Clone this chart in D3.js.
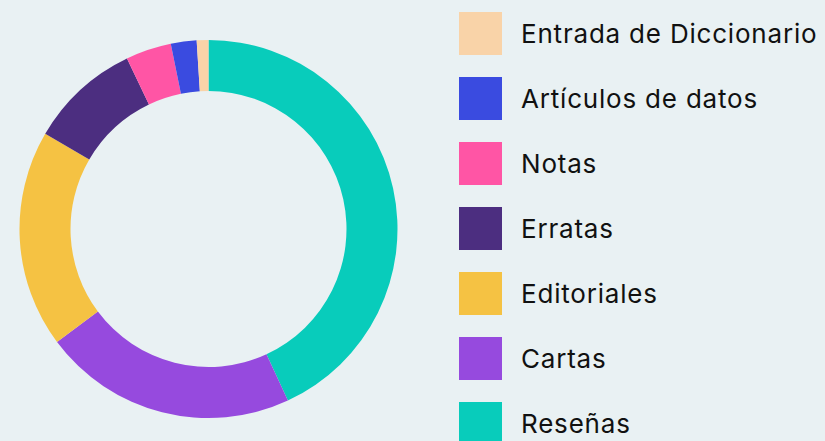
<!DOCTYPE html>
<html>
<head>
<meta charset="utf-8">
<script src="https://cdn.jsdelivr.net/npm/d3@7"></script>
<style>
  html, body { margin: 0; padding: 0; background: #e9f1f3; }
  svg { display: block; }
</style>
</head>
<body>
<div class="chart"></div>
<script>
(function() {
  'use strict';

  // slices in drawing order, clockwise from 12 o'clock
  const categories = ['Reseñas', 'Cartas', 'Editoriales', 'Erratas', 'Notas', 'Artículos de datos', 'Entrada de Diccionario'];
  const values     = [43.1, 21.7, 18.6, 9.5, 3.9, 2.2, 1.0];
  const colors     = ['#08ccbb', '#964ade', '#f5c243', '#4c2e80', '#ff55a5', '#3a4be0', '#f9d3a8'];
  // legend lists them the other way round
  const legendOrder = categories.slice().reverse();

  let width  = 825,
      height = 441,
      cx = 208.5, cy = 229,
      outerR = 189, innerR = 138,

      svg = d3.select('.chart')
        .append('svg')
        .attr('width', width)
        .attr('height', height),

      color = d3.scaleOrdinal()
        .domain(categories)
        .range(colors),

      pie = d3.pie()
        .sort(null)
        .value(d => d.value),

      arc = d3.arc()
        .innerRadius(innerR)
        .outerRadius(outerR);

  let data = categories.map((c, i) => ({ name: c, value: values[i] }));

  // donut
  svg.append('g')
    .attr('transform', `translate(${cx},${cy})`)
    .selectAll('path')
    .data(pie(data))
    .enter()
    .append('path')
      .attr('d', arc)
      .attr('fill', d => color(d.data.name));

  // legend
  let rowY = d3.scalePoint()
    .domain(legendOrder)
    .range([12, 402]);

  let legend = svg.append('g')
    .selectAll('g')
    .data(legendOrder)
    .enter()
    .append('g')
      .attr('transform', d => `translate(459,${rowY(d)})`);

  legend.append('rect')
    .attr('width', 43)
    .attr('height', 43)
    .attr('fill', d => color(d));

  legend.append('text')
    .attr('x', 62)
    .attr('y', 30.5)
    .style('font-family', 'Inter, "Noto Sans", sans-serif')
    .style('font-size', '26px')
    .style('letter-spacing', '0.8px')
    .style('fill', '#111')
    .text(d => d);

})();
</script>
</body>
</html>
